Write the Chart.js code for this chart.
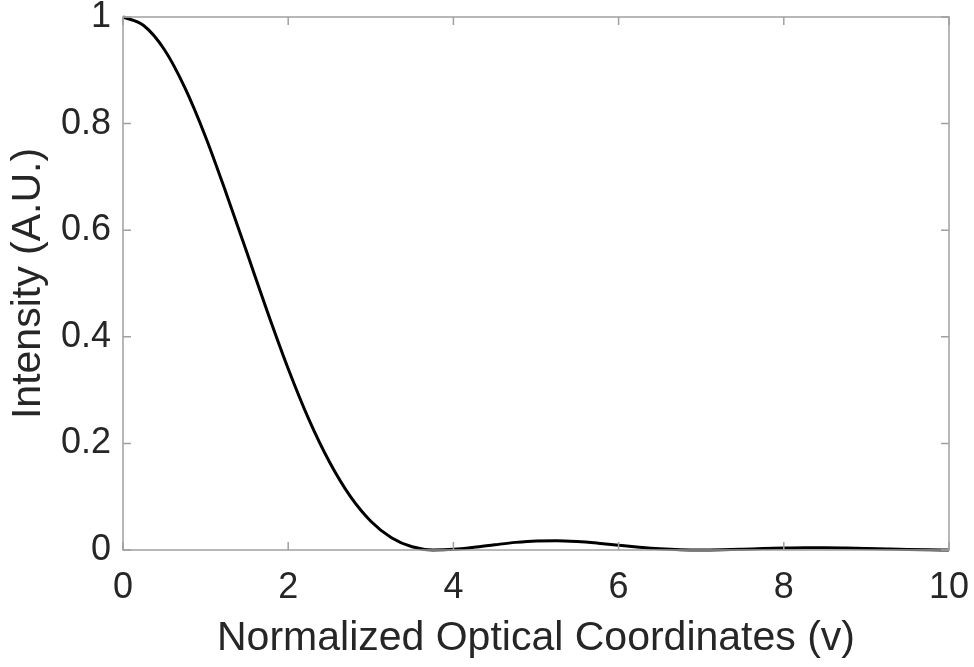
<!DOCTYPE html>
<html>
<head>
<meta charset="utf-8">
<script src="https://cdn.jsdelivr.net/npm/chart.js@4"></script>
<style>
  html, body { margin: 0; padding: 0; background: #fff; }
  #wrap { width: 974px; height: 667px; }
</style>
</head>
<body>
<div id="wrap"><canvas id="psf"></canvas></div>
<script>
// Values
const vCoords = [0, 0.25, 0.5, 0.75, 1, 1.25, 1.5, 1.75, 2, 2.25, 2.5, 2.75, 3, 3.25, 3.5, 3.75,
  4, 4.25, 4.5, 4.75, 5, 5.25, 5.5, 5.75, 6, 6.25, 6.5, 6.75, 7, 7.25, 7.5, 7.75,
  8, 8.25, 8.5, 8.75, 9, 9.25, 9.5, 9.75, 10];
const intensity = [1.0, 0.984, 0.939, 0.867, 0.775, 0.669, 0.558, 0.446, 0.34, 0.245, 0.165, 0.101,
  0.054, 0.023, 0.006, 0.0002, 0.0013, 0.005, 0.0098, 0.0143, 0.0171, 0.0175, 0.0159, 0.0128,
  0.009, 0.0053, 0.0023, 0.0005, 0.00003, 0.0005, 0.0015, 0.0027, 0.0036, 0.0041, 0.0041,
  0.0036, 0.0028, 0.0018, 0.0009, 0.0003, 0.00002];
const xTicks = [0, 2, 4, 6, 8, 10];
const yTicks = [0, 0.2, 0.4, 0.6, 0.8, 1];

const axisGray = '#a0a0a0';
const textColor = '#262626';
const fontFamily = '"Liberation Sans", Arial, Helvetica, sans-serif';

// MATLAB-style box with inward ticks
const boxTicks = {
  id: 'boxTicks',
  afterDatasetsDraw(chart) {
    const { ctx, chartArea: a, scales: { x, y } } = chart;
    const len = 8;
    ctx.save();
    ctx.strokeStyle = axisGray;
    ctx.lineWidth = 1.5;
    ctx.strokeRect(a.left, a.top, a.right - a.left, a.bottom - a.top);
    ctx.beginPath();
    xTicks.forEach(t => {
      const px = x.getPixelForValue(t);
      ctx.moveTo(px, a.bottom); ctx.lineTo(px, a.bottom - len);
      ctx.moveTo(px, a.top); ctx.lineTo(px, a.top + len);
    });
    yTicks.forEach(t => {
      const py = y.getPixelForValue(t);
      ctx.moveTo(a.left, py); ctx.lineTo(a.left + len, py);
      ctx.moveTo(a.right, py); ctx.lineTo(a.right - len, py);
    });
    ctx.stroke();
    ctx.restore();
  }
};

new Chart(document.getElementById('psf').getContext('2d'), {
  type: 'line',
  data: {
    datasets: [{
      data: vCoords.map((v, i) => ({ x: v, y: intensity[i] })),
      borderColor: '#000',
      borderWidth: 3,
      pointRadius: 0,
      tension: 0.4,
      cubicInterpolationMode: 'monotone',
      fill: false,
      clip: false,
    }]
  },
  options: {
    responsive: true,
    maintainAspectRatio: false,
    animation: false,
    layout: { padding: { top: 17, right: 25, left: 0, bottom: 0 } },
    plugins: { legend: { display: false }, tooltip: { enabled: false } },
    scales: {
      x: {
        type: 'linear',
        min: 0,
        max: 10,
        afterBuildTicks: s => { s.ticks = xTicks.map(v => ({ value: v })); },
        afterFit: s => { s.height = 117; s.paddingLeft = 0; s.paddingRight = 0; },
        grid: { display: false },
        border: { display: false },
        ticks: {
          padding: 8,
          color: textColor,
          font: { family: fontFamily, size: 36 },
          maxRotation: 0,
          callback: v => String(v),
        },
        title: {
          display: true,
          text: 'Normalized Optical Coordinates (v)',
          color: textColor,
          font: { family: fontFamily, size: 41 },
          padding: { top: 2 },
        },
      },
      y: {
        min: 0,
        max: 1,
        afterBuildTicks: s => { s.ticks = yTicks.map(v => ({ value: v })); },
        afterFit: s => { s.width = 123; s.paddingTop = 0; s.paddingBottom = 0; },
        grid: { display: false },
        border: { display: false },
        ticks: {
          padding: 4,
          color: textColor,
          font: { family: fontFamily, size: 36 },
          callback: v => String(+v.toFixed(1)),
        },
        title: {
          display: true,
          text: 'Intensity (A.U.)',
          color: textColor,
          font: { family: fontFamily, size: 41 },
        },
      },
    },
  },
  plugins: [boxTicks],
});
</script>
</body>
</html>
